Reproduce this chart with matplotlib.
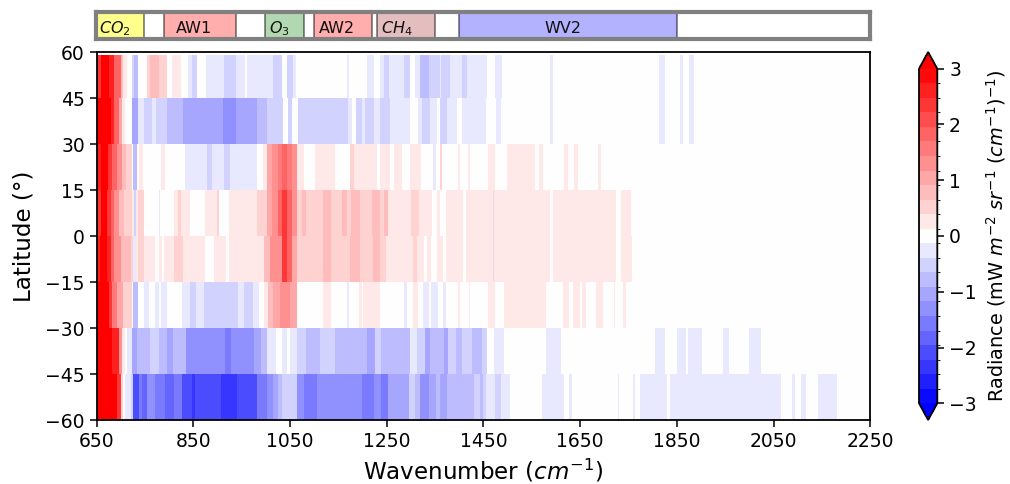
import numpy as np
import matplotlib
matplotlib.use("Agg")
import matplotlib.pyplot as plt
from matplotlib.colors import BoundaryNorm, ListedColormap

LAT_EDGES = [59.2, 45, 30, 15, 0, -15, -30, -45, -60]
XMAX = 2250

# each row: (start wavenumber, radiance) steps
ROW_60_45 = [(650,2.35),(659,3.2),(675,2.61),(686,1.83),(700,.78),(705,.26),(713,0),(724,-.52),(728,-.78),(735,0),(755,.52),(760,.78),(778,.52),(795,0),(805,.26),(824,0),(838,-.26),(847,-.52),(858,0),(876,-.26),(914,-.52),(938,-.26),(957,0),(961,-.26),(1014,-.52),(1033,0),(1043,-.52),(1056,-.26),(1063,0),(1168,-.26),(1172,0),(1209,-.26),(1224,0),(1235,-.26),(1245,-.52),(1254,-.26),(1285,-.52),(1297,0),(1309,-.26),(1319,-.78),(1337,-.52),(1359,-.26),(1362,-.52),(1381,-.26),(1406,-.52),(1415,-.26),(1458,0),(1474,-.26),(1488,0),(1587,-.26),(1594,0),(1812,-.26),(1825,0),(1857,-.26),(1863,0),(1876,-.26),(1885,0)]
ROW_45_30 = [(650,3.2),(679,2.61),(686,1.83),(696,1.04),(703,.26),(708,0),(724,-1.04),(735,-.26),(747,-.52),(764,-.26),(772,-.52),(796,-.78),(829,-1.04),(912,-1.3),(938,-1.04),(982,-.78),(1002,-.52),(1036,0),(1045,-.52),(1054,0),(1067,-.52),(1169,-.26),(1178,0),(1187,-.52),(1199,-.26),(1205,-.52),(1223,-.26),(1236,-.52),(1257,-.26),(1299,0),(1314,-.26),(1323,-.52),(1340,-.26),(1354,0),(1361,-.52),(1374,-.26),(1395,0),(1406,-.26),(1455,0),(1476,-.26),(1486,0),(1587,-.26),(1593,0),(1812,-.26),(1825,0),(1857,-.26),(1863,0),(1876,-.26),(1886,0),(1950,-.13),(1952,0)]
ROW_30_15 = [(650,2.61),(659,3.2),(673,2.35),(682,1.83),(692,1.3),(703,.78),(710,.52),(722,0),(725,-.78),(734,0),(738,.26),(745,0),(784,.26),(791,0),(833,-.26),(878,-.52),(889,-.26),(914,-.52),(926,-.26),(981,0),(994,.26),(1003,1.04),(1012,1.3),(1026,1.57),(1033,1.83),(1043,1.57),(1054,1.3),(1065,.26),(1078,0),(1102,.26),(1143,0),(1174,.52),(1183,.26),(1230,0),(1236,.26),(1257,0),(1265,.26),(1281,0),(1298,.26),(1320,0),(1345,-.26),(1352,0),(1359,.52),(1364,0),(1397,.26),(1402,0),(1417,.26),(1422,0),(1459,.26),(1474,0),(1498,.26),(1557,0),(1564,.26),(1574,0),(1617,.26),(1624,0),(1638,.26),(1645,0),(1687,.26),(1694,0)]
ROW_15_0 = [(650,2.35),(658,3.2),(672,2.35),(679,1.83),(686,1.3),(696,.78),(706,.52),(723,.26),(727,-.52),(732,.26),(736,.52),(748,0),(778,-.26),(781,0),(809,.26),(819,.52),(824,.26),(843,0),(874,.26),(898,.52),(902,0),(923,.26),(981,.52),(1002,1.04),(1012,1.3),(1026,1.83),(1033,2.35),(1043,1.83),(1054,1.3),(1065,.52),(1074,.78),(1083,.52),(1118,.78),(1134,.52),(1157,.78),(1168,.52),(1175,.78),(1195,.52),(1219,.78),(1236,.52),(1244,.78),(1253,.26),(1301,.52),(1317,.26),(1343,0),(1353,.26),(1359,0),(1373,.26),(1408,0),(1413,.26),(1469,.52),(1472,.26),(1587,0),(1594,.26),(1725,0),(1735,.26),(1756,0)]
ROW_0_S15 = [(650,2.61),(657,3.2),(672,2.61),(679,1.83),(686,1.3),(700,.78),(720,.52),(726,-.26),(731,.26),(736,.52),(747,.26),(771,0),(778,.26),(785,0),(789,.26),(810,.52),(829,.26),(874,0),(893,.26),(918,0),(923,.26),(995,.78),(1009,1.3),(1033,2.35),(1043,1.83),(1054,1.04),(1065,.52),(1118,.78),(1134,.52),(1173,.78),(1194,.52),(1221,.78),(1236,.52),(1248,.26),(1304,.52),(1312,.26),(1327,0),(1333,.26),(1341,0),(1353,.26),(1367,0),(1373,.26),(1408,0),(1413,.26),(1469,.52),(1472,.26),(1587,0),(1594,.26),(1725,0),(1735,.26),(1757,0)]
ROW_S15_S30 = [(650,3.2),(675,2.35),(682,1.57),(693,1.04),(705,.52),(722,0),(726,-.78),(735,0),(748,-.26),(758,0),(771,-.26),(778,0),(783,-.26),(796,0),(826,-.26),(843,-.52),(856,-.26),(871,-.52),(943,-.26),(954,-.52),(974,-.26),(985,0),(996,.26),(1005,.78),(1014,1.04),(1030,1.3),(1050,1.04),(1065,0),(1119,.26),(1134,0),(1168,-.26),(1171,0),(1192,.26),(1198,0),(1201,.26),(1236,0),(1286,-.26),(1291,0),(1304,.26),(1315,0),(1324,-.26),(1338,0),(1342,-.26),(1355,0),(1367,-.26),(1373,0),(1398,.26),(1402,0),(1419,.26),(1422,0),(1459,.26),(1474,0),(1493,.26),(1579,0),(1614,.26),(1626,0),(1635,.26),(1649,0),(1653,.26),(1662,0),(1683,.26),(1698,0),(1719,.26),(1722,0),(1738,.26),(1745,0)]
ROW_S30_S45 = [(650,3.2),(682,2.61),(696,1.3),(703,.26),(708,0),(713,-.26),(723,-1.04),(734,-.78),(760,-.52),(778,-.78),(796,-1.04),(807,-.78),(835,-1.3),(916,-1.57),(927,-1.3),(976,-1.04),(990,-.78),(1003,-.26),(1021,0),(1033,-.26),(1043,0),(1050,-.26),(1064,-.52),(1083,-.78),(1111,-.52),(1143,-.78),(1209,-1.04),(1226,-.52),(1237,-.78),(1299,-.26),(1313,-.52),(1330,-1.04),(1340,-.78),(1368,-1.04),(1376,-.52),(1394,-.78),(1406,-.52),(1426,-.78),(1447,-.52),(1458,0),(1472,-.26),(1493,0),(1580,-.26),(1611,0),(1805,-.26),(1826,0),(1850,-.26),(1869,0),(1872,-.26),(1902,0),(1945,-.26),(1957,0),(2000,-.26),(2023,0)]
ROW_S45_S60 = [(650,3.2),(693,2.35),(700,.52),(705,0),(708,-.26),(720,-.52),(726,-2.09),(737,-1.57),(744,-1.83),(753,-1.3),(771,-1.57),(791,-1.83),(809,-1.57),(826,-2.09),(847,-2.35),(854,-2.09),(907,-2.35),(940,-2.09),(981,-1.57),(1002,-1.3),(1014,-1.04),(1026,-.78),(1033,-.52),(1065,-1.3),(1078,-1.57),(1105,-1.3),(1199,-1.57),(1223,-1.3),(1237,-1.57),(1252,-1.04),(1295,-.52),(1309,-.78),(1319,-1.3),(1337,-1.04),(1351,-.78),(1361,-1.04),(1375,-.78),(1430,-.52),(1443,-.78),(1449,-.52),(1456,-.26),(1474,-.52),(1486,-.26),(1505,0),(1572,-.26),(1616,0),(1627,-.26),(1633,0),(1729,-.26),(1731,0),(1759,-.26),(1764,0),(1774,-.26),(1830,0),(1835,-.26),(2066,0),(2089,-.26),(2095,0),(2107,-.26),(2116,0),(2141,-.26),(2182,0)]
ROWS = [ROW_60_45, ROW_45_30, ROW_30_15, ROW_15_0, ROW_0_S15, ROW_S15_S30, ROW_S30_S45, ROW_S45_S60]

BAND_NAMES = ["$CO_2$", "AW1", "$O_3$", "AW2", "$CH_4$", "WV2"]
BAND_LO = [650, 790, 1000, 1100, 1230, 1400]
BAND_HI = [750, 940, 1080, 1220, 1350, 1850]
BAND_LABEL_X = [688, 853, 1028, 1147, 1272, 1615]
BAND_COLORS = [(1, 1, 0, .45), (1, 0, 0, .32), (0, .5, 0, .3), (1, 0, 0, .32), (.65, .16, .16, .3), (0, 0, 1, .3)]

levels = np.linspace(-3, 3, 24)
mids = (levels[:-1] + levels[1:]) / 2
base = plt.get_cmap("bwr")
cmap = ListedColormap(base((mids + 3) / 6))
cmap.set_over("#ff0000")
cmap.set_under("#0000ff")
norm = BoundaryNorm(levels, cmap.N)

W, H = 1010, 484
fig = plt.figure(figsize=(W / 100, H / 100), dpi=100)


def box(x0, y0, x1, y1):
    return [x0 / W, 1 - y1 / H, (x1 - x0) / W, (y1 - y0) / H]


ax = fig.add_axes(box(96.7, 52.3, 870.3, 420))
for i, row in enumerate(ROWS):
    starts = [p[0] for p in row]
    vals = [p[1] for p in row]
    edges = starts + [XMAX]
    ax.pcolormesh(edges, [LAT_EDGES[i + 1], LAT_EDGES[i]], [vals], cmap=cmap, norm=norm,
                  shading="flat", antialiased=False, linewidth=0)
ax.set_xlim(650, 2250)
ax.set_ylim(-60, 60)
ax.set_xticks(np.arange(650, 2251, 200))
ax.set_yticks(np.arange(-60, 61, 15))
ax.tick_params(labelsize=13.5, width=1.1, length=5)
for s in ax.spines.values():
    s.set_linewidth(1.3)
ax.set_xlabel("Wavenumber ($cm^{-1}$)", fontsize=16.6, labelpad=4.5)
ax.set_ylabel("Latitude (°)", fontsize=16.6, labelpad=7)

top = fig.add_axes(box(96.0, 11.5, 870.3, 38.8))
top.set_xlim(650, 2250)
top.set_ylim(0, 1)
top.set_xticks([])
top.set_yticks([])
for lo, hi, col, name, lx in zip(BAND_LO, BAND_HI, BAND_COLORS, BAND_NAMES, BAND_LABEL_X):
    top.axvspan(lo, hi, facecolor=col, edgecolor=(0, 0, 0, .45), linewidth=1.4)
    top.text(lx, .38, name, ha="center", va="center", fontsize=11.5, color="#111111")
for s in top.spines.values():
    s.set_linewidth(3)
    s.set_edgecolor("#808080")
    s.set_zorder(5)

cax = fig.add_axes(box(919, 52, 937.3, 420))
sm = plt.cm.ScalarMappable(norm=BoundaryNorm(levels, cmap.N), cmap=cmap)
cb = fig.colorbar(sm, cax=cax, extend="both", ticks=np.arange(-3, 4), spacing="proportional")
cb.ax.tick_params(labelsize=13.5, width=1.1, length=5)
cb.outline.set_linewidth(1.3)
cb.set_label("Radiance (mW $m^{-2}$ $sr^{-1}$ $(cm^{-1})^{-1}$)", fontsize=13.9, labelpad=5)

fig.savefig("out.png", dpi=100)
